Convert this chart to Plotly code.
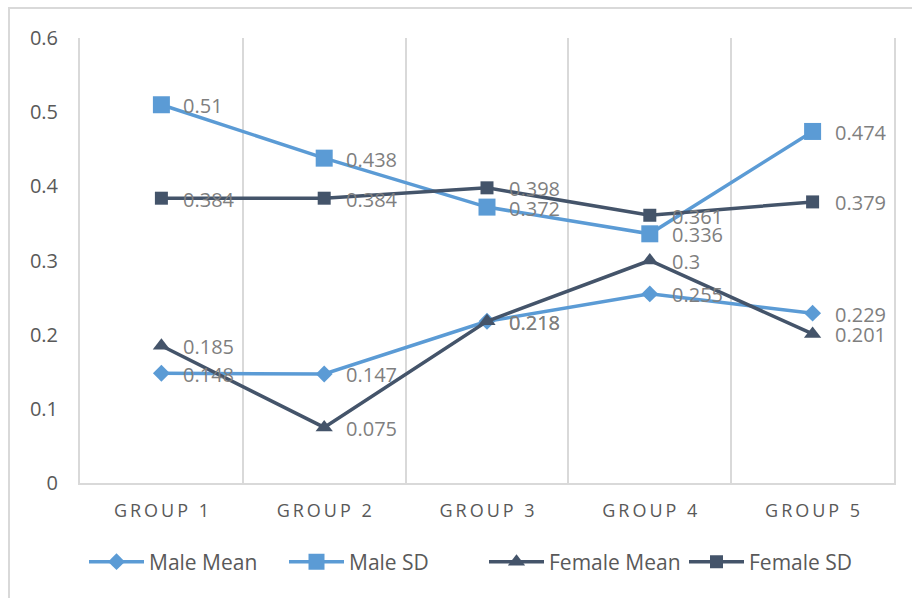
import plotly.graph_objects as go

# Category labels and series values
groups = ["GROUP 1", "GROUP 2", "GROUP 3", "GROUP 4", "GROUP 5"]
male_mean = [0.148, 0.147, 0.218, 0.255, 0.229]
male_sd = [0.51, 0.438, 0.372, 0.336, 0.474]
female_mean = [0.185, 0.075, 0.218, 0.3, 0.201]
female_sd = [0.384, 0.384, 0.398, 0.361, 0.379]
y_ticks = [0, 0.1, 0.2, 0.3, 0.4, 0.5, 0.6]

LIGHT = "#5B9BD5"
DARK = "#44546A"
GRID = "#D9D9D9"
FONT = "Open Sans"

W, H = 912, 598
L, R, T, B = 80, 18, 38, 115


def spaced(label):
    # widen the category labels with thin spaces between letters
    return "\u2009".join(label)


series = [
    ("Male Mean", male_mean, LIGHT, "diamond", 13),
    ("Male SD", male_sd, LIGHT, "square", 17),
    ("Female Mean", female_mean, DARK, "triangle-up", 15),
    ("Female SD", female_sd, DARK, "square", 13),
]

fig = go.Figure()
for name, vals, color, symbol, size in series:
    fig.add_trace(go.Scatter(
        x=groups, y=vals, name=name,
        mode="lines+markers",
        line=dict(color=color, width=3.5),
        marker=dict(symbol=symbol, size=size, color=color),
        cliponaxis=False,
    ))
    # value labels to the right of each point
    for g, v in zip(groups, vals):
        fig.add_annotation(
            x=g, y=v, text=f"{v:g}", showarrow=False,
            xanchor="left", yanchor="middle", xshift=20, yshift=-1,
            font=dict(family=FONT, size=20, color="#7F7F7F"),
        )

# outer chart border
pw, ph = W - L - R, H - T - B
fig.add_shape(
    type="rect", xref="paper", yref="paper",
    x0=(9 - L) / pw, x1=(W + 5 - L) / pw,
    y0=(H - B - (H + 5)) / ph, y1=(H - B - 8) / ph,
    line=dict(color=GRID, width=2), fillcolor="rgba(0,0,0,0)", layer="below",
)

fig.update_layout(
    width=W, height=H,
    margin=dict(l=L, r=R, t=T, b=B, autoexpand=False),
    paper_bgcolor="white", plot_bgcolor="white",
    font=dict(family=FONT, color="#595959"),
    showlegend=True,
    legend=dict(
        orientation="h", x=(84 - L) / pw, xanchor="left",
        y=(H - B - 562) / ph, yanchor="middle",
        font=dict(family=FONT, size=21, color="#595959"),
        itemwidth=55,
        entrywidth=130, entrywidthmode="pixels",
    ),
)
fig.update_xaxes(
    type="category", range=[-0.5, 4.5],
    tickvals=groups, ticktext=[spaced(g) for g in groups],
    tickson="boundaries", ticks="",
    showgrid=True, gridcolor=GRID, gridwidth=2,
    showline=True, linecolor=GRID, linewidth=2,
    tickfont=dict(family=FONT, size=18, color="#595959"),
    ticklabelstandoff=10,
    zeroline=False,
)
fig.update_yaxes(
    range=[0, 0.6], tickvals=y_ticks,
    showgrid=False, zeroline=False,
    showline=True, linecolor=GRID, linewidth=2, mirror=True,
    ticks="",
    tickfont=dict(family=FONT, size=20, color="#595959"),
    ticklabelstandoff=16,
)

fig.write_html("out.html")
